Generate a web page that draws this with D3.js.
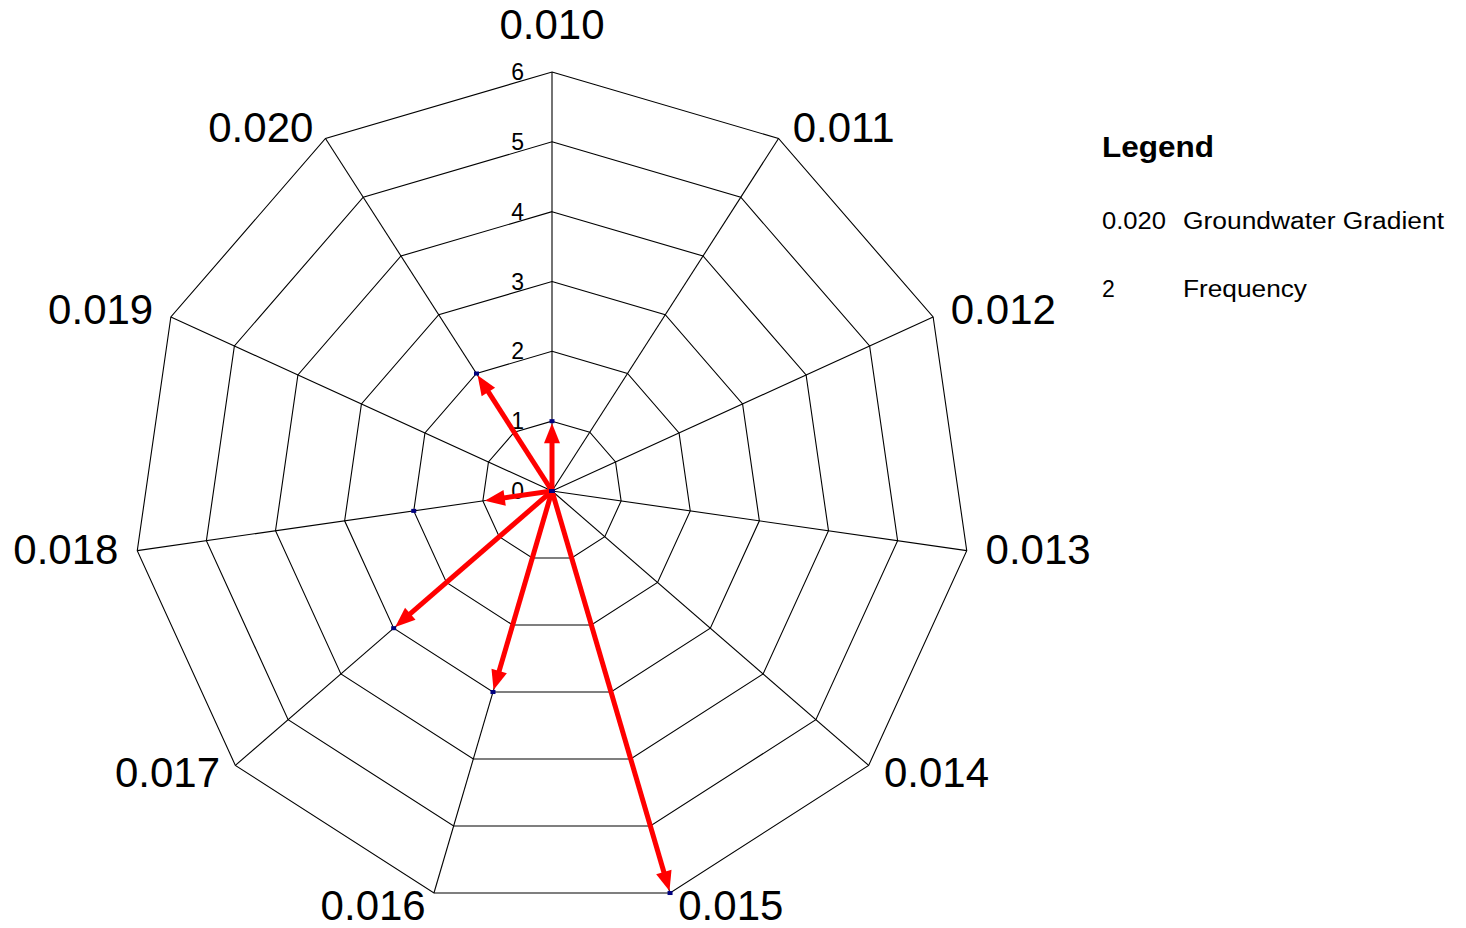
<!DOCTYPE html>
<html>
<head>
<meta charset="utf-8">
<script src="https://cdn.jsdelivr.net/npm/d3@7"></script>
<style>
  html, body { margin: 0; padding: 0; background: #fff; }
  svg { display: block; font-family: "Liberation Sans", Arial, sans-serif; }
</style>
</head>
<body>
<svg id="chart" width="1466" height="928"></svg>
<script>
// ---- data ----
const categories = ["0.010", "0.011", "0.012", "0.013", "0.014", "0.015", "0.016", "0.017", "0.018", "0.019", "0.020"];
const frequency = [1, 0, 0, 0, 0, 6, 3, 3, 2, 0, 2];      // plotted points
const arrowLength = [1, 0, 0, 0, 0, 6, 3, 3, 1, 0, 2];    // red arrows
const tickValues = [0, 1, 2, 3, 4, 5, 6];
const legendTitle = "Legend";
const legendKeys = ["0.020", "2"];
const legendLabels = ["Groundwater Gradient", "Frequency"];

// ---- layout ----
const svg = d3.select("#chart");
const cx = 552, cy = 491, R = 419;
const r = d3.scaleLinear().domain([0, 6]).range([0, R]);
const angle = d3.scaleBand().domain(categories).range([0, 2 * Math.PI]).align(0).paddingInner(0).paddingOuter(0);
const ang = c => angle(c);
const pt = (c, v) => [cx + r(v) * Math.sin(ang(c)), cy - r(v) * Math.cos(ang(c))];

const g = svg.append("g");

// grid polygons
tickValues.filter(t => t > 0).forEach(t => {
  g.append("polygon")
    .attr("points", categories.map(c => pt(c, t).join(",")).join(" "))
    .attr("fill", "none").attr("stroke", "#000").attr("stroke-width", 1.1);
});
// spokes
categories.forEach(c => {
  const [x, y] = pt(c, 6);
  g.append("line").attr("x1", cx).attr("y1", cy).attr("x2", x).attr("y2", y)
    .attr("stroke", "#000").attr("stroke-width", 1.1);
});

// tick labels along top axis
g.selectAll("text.tick").data(tickValues).enter().append("text")
  .attr("class", "tick")
  .attr("x", cx - 28)
  .attr("y", d => cy - r(d) + 8)
  .attr("text-anchor", "end")
  .attr("font-size", 23)
  .attr("fill", "#000")
  .text(d => d);

// category labels
categories.forEach(c => {
  const a = ang(c);
  const [x, y] = pt(c, 6);
  const s = Math.sin(a), co = Math.cos(a);
  const t = g.append("text").attr("font-size", 42).attr("fill", "#000").text(c);
  if (Math.abs(s) < 1e-6) {
    t.attr("x", x).attr("y", y - 33).attr("text-anchor", "middle");
  } else {
    const midY = y + 1 - 12.8 * co - 4 * Math.abs(s);
    const off = 4 + 15 * Math.abs(s) + (s > 0 && co > 0.5 ? 2 : 0);
    t.attr("x", x + (s > 0 ? off : -off)).attr("y", Math.min(midY + 15, 920))
     .attr("text-anchor", s > 0 ? "start" : "end");
  }
});

// arrows
const headLen = 20, headW = 16, tipGap = 2;
categories.forEach((c, i) => {
  const v = arrowLength[i];
  if (v <= 0) return;
  const a = ang(c);
  const ux = Math.sin(a), uy = -Math.cos(a);
  const [ex, ey] = pt(c, v);
  const tx = ex - ux * tipGap, ty = ey - uy * tipGap;
  const px = -uy, py = ux;
  const bx = tx - ux * headLen, by = ty - uy * headLen;
  g.append("line")
    .attr("x1", cx).attr("y1", cy)
    .attr("x2", tx - ux * headLen * 0.7).attr("y2", ty - uy * headLen * 0.7)
    .attr("stroke", "#ff0000").attr("stroke-width", 5);
  g.append("polygon")
    .attr("points", [[tx, ty], [bx + px * headW / 2, by + py * headW / 2], [bx - px * headW / 2, by - py * headW / 2]].map(p => p.join(",")).join(" "))
    .attr("fill", "#ff0000");
});

// data points
categories.forEach((c, i) => {
  const [x, y] = pt(c, frequency[i]);
  g.append("rect").attr("x", x - 2.5).attr("y", y - 2).attr("width", 5).attr("height", 4)
    .attr("fill", "#000080");
});

// legend
const lg = svg.append("g");
lg.append("text").attr("x", 1102).attr("y", 157).attr("font-size", 29).attr("font-weight", "bold")
  .attr("textLength", 112).attr("lengthAdjust", "spacingAndGlyphs").attr("fill", "#000").text(legendTitle);
const rowY = [229, 297];
const keyW = [64, null];
const labW = [261, 124];
legendKeys.forEach((k, i) => {
  const t = lg.append("text").attr("x", 1102).attr("y", rowY[i]).attr("font-size", 23).attr("fill", "#000").text(k);
  if (keyW[i]) t.attr("textLength", keyW[i]).attr("lengthAdjust", "spacingAndGlyphs");
  lg.append("text").attr("x", 1183).attr("y", rowY[i]).attr("font-size", 23).attr("fill", "#000")
    .attr("textLength", labW[i]).attr("lengthAdjust", "spacingAndGlyphs").text(legendLabels[i]);
});
</script>
</body>
</html>
